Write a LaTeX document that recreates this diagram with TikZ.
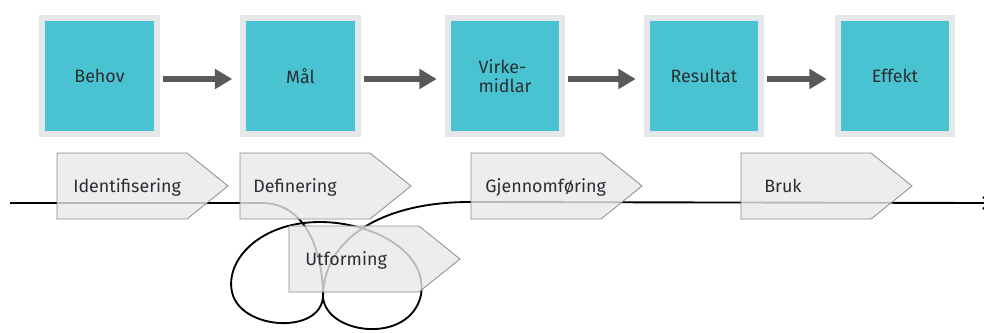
\documentclass[tikz,border=0pt]{standalone}
\usepackage{fontspec}
\setmainfont{Fira Sans}
\usetikzlibrary{arrows.meta,positioning,calc}
\definecolor{boxcyan}{HTML}{49C3D2}
\definecolor{framegray}{HTML}{E6E7E9}
\definecolor{arrowgray}{HTML}{58595B}
\definecolor{phasefill}{HTML}{E8E9EB}
\definecolor{phaseline}{HTML}{8A8B8D}
\definecolor{txtgray}{HTML}{2B2E30}

\begin{document}
\begin{tikzpicture}[x=0.75pt, y=-0.75pt, font=\fontsize{13.4}{14.5}\selectfont, >=Stealth,
  stage/.style={draw=framegray, line width=4.5pt, fill=boxcyan, minimum width=86pt,
    minimum height=87pt, inner sep=0pt, text=txtgray, align=left},
  flow/.style={-{Triangle[length=13pt,width=14.5pt]}, line width=4.5pt, arrowgray,
    shorten <=2.25pt, shorten >=6pt},
  phase/.style={fill=phasefill, fill opacity=0.8, draw=phaseline, line width=0.6pt},
  phaselbl/.style={anchor=west, text=txtgray, inner sep=0pt, text height=9.5pt, text depth=2.5pt},
  track/.style={line width=1.4pt, black}]
\useasboundingbox (0,0) rectangle (984,332);
\clip (0,0) rectangle (984,332);

% top row: stages
\foreach \x/\nm/\lbl in {99.5/behov/Behov, 300.5/maal/Mål, 505/virke/{Virke-\\midlar},
    704/resultat/Resultat, 895/effekt/Effekt}{
  \node[stage] (\nm) at (\x,76) {\lbl};
}
\foreach \a/\b in {behov/maal, maal/virke, virke/resultat, resultat/effekt}{
  \draw[flow] ([yshift=-2.25pt]\a.east) -- ([yshift=-2.25pt]\b.west);
}

% time line with the loop
\coordinate (start) at (10,203);
\coordinate (stop) at (991,203);
\draw[track, -{Straight Barb[length=5pt,width=9pt]}] (start) -- (262,203)
  .. controls (305,203) and (323,250) .. (323,297)
  .. controls (326,335) and (410,345) .. (421,295)
  .. controls (428,250) and (370,222) .. (320,222)
  .. controls (260,222) and (225,260) .. (232,292)
  .. controls (240,330) and (320,335) .. (323,297)
  .. controls (323,240) and (380,202) .. (470,202)
  -- (stop);

% lower row: phases
\foreach \nm/\l/\m/\dx/\lbl in {ident/57/186/16/Identifisering, def/240/186/13/Definering,
    utf/289/259/16/Utforming, gjen/471/186/14/Gjennomføring, bruk/741/186/23/Bruk}{
  \path[phase] (\l,\m-33) -- (\l+130,\m-33) -- (\l+171,\m) -- (\l+130,\m+33)
    -- (\l,\m+33) -- cycle;
  \node[phaselbl] (\nm) at (\l+\dx,\m+1.5) {\lbl};
}
\end{tikzpicture}
\end{document}
